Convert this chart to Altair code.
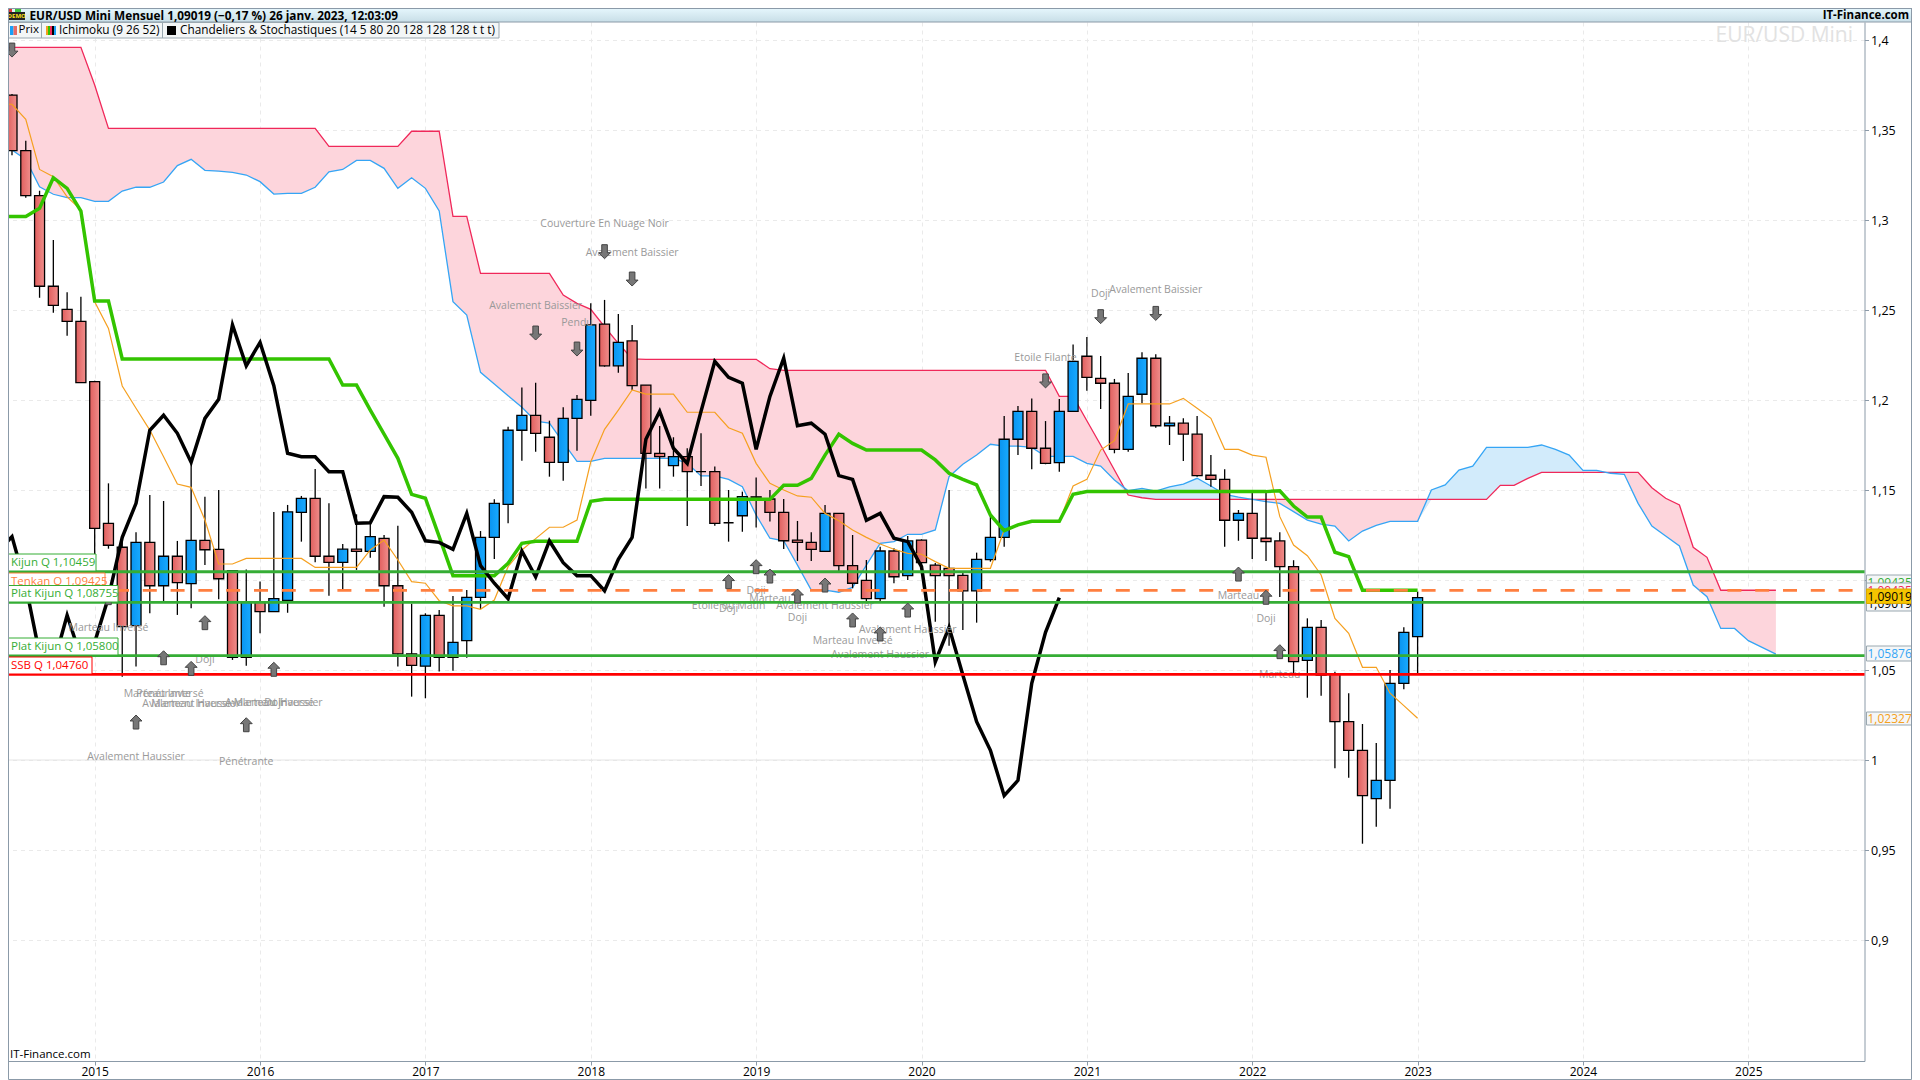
import altair as alt
import pandas as pd

# --- candles, month index -6 (Jul 2014) .. 96 (Jan 2023)
opens = [1.3694,1.3385,1.3135,1.2632,1.2504,1.2437,
 1.2102,1.1315,1.1182,1.0746,1.1209,1.0968,1.1132,1.0980,1.1220,1.1170,1.1052,1.0570,
 1.0879,1.0824,1.0887,1.1376,1.1454,1.1132,1.1098,1.1171,1.1159,1.1231,1.0968,1.0590,
 1.0521,1.0804,1.0570,1.0663,1.0904,1.1237,1.1420,1.1832,1.1915,1.1793,1.1654,1.1898,
 1.1998,1.2422,1.2190,1.2328,1.2083,1.1704,1.1635,1.1685,1.1602,1.1602,1.1318,1.1357,
 1.1462,1.1450,1.1376,1.1222,1.1209,1.1159,1.1370,1.1080,1.0998,1.0896,1.1161,1.1024,
 1.1222,1.1083,1.1065,1.1026,1.0940,1.1113,1.1237,1.1782,1.1937,1.1732,1.1652,1.1937,
 1.2243,1.2120,1.2093,1.1726,1.2032,1.2232,1.1857,1.1871,1.1810,1.1582,1.1559,1.1332,
 1.1370,1.1232,1.1217,1.1074,1.0554,1.0737,1.0478,1.0213,1.0054,0.9785,0.9887,1.0426,1.0685]
closes = [1.3385,1.3135,1.2632,1.2526,1.2437,1.2096,
 1.1287,1.1193,1.0741,1.1209,1.0968,1.1132,1.0985,1.1220,1.1168,1.1007,1.0570,1.0879,
 1.0824,1.0896,1.1379,1.1454,1.1132,1.1098,1.1171,1.1159,1.1241,1.0968,1.0590,1.0526,
 1.0804,1.0570,1.0654,1.0904,1.1237,1.1426,1.1832,1.1915,1.1815,1.1654,1.1898,1.2004,
 1.2417,1.2190,1.2320,1.2080,1.1704,1.1685,1.1685,1.1602,1.1602,1.1315,1.1318,1.1463,
 1.1460,1.1376,1.1218,1.1209,1.1170,1.1370,1.1080,1.0982,1.0896,1.1161,1.1018,1.1217,
 1.1096,1.1024,1.1024,1.0940,1.1115,1.1237,1.1782,1.1937,1.1732,1.1648,1.1937,1.2215,
 1.2126,1.2093,1.1726,1.2020,1.2232,1.1857,1.1871,1.1810,1.1580,1.1559,1.1332,1.1370,
 1.1232,1.1213,1.1074,1.0546,1.0737,1.0472,1.0213,1.0054,0.9802,0.9887,1.0426,1.0709,1.0902]
highs = [1.3700,1.3440,1.3163,1.2889,1.2598,1.2574,
 1.2107,1.1537,1.1240,1.1265,1.1472,1.1439,1.1217,1.1657,1.1463,1.1500,1.1052,1.1059,
 1.0991,1.1378,1.1417,1.1467,1.1617,1.1426,1.1200,1.1365,1.1315,1.1250,1.1302,1.0868,
 1.0815,1.0833,1.0911,1.0944,1.1272,1.1448,1.1852,1.2070,1.2096,1.1885,1.1960,1.2028,
 1.2537,1.2556,1.2478,1.2417,1.2083,1.1856,1.1793,1.1732,1.1815,1.1630,1.1500,1.1491,
 1.1570,1.1500,1.1450,1.1328,1.1265,1.1417,1.1370,1.1250,1.1111,1.1185,1.1176,1.1244,
 1.1226,1.1094,1.1500,1.1040,1.1152,1.1370,1.1911,1.1967,1.2009,1.1883,1.2006,1.2309,
 1.2350,1.2244,1.2117,1.2150,1.2265,1.2254,1.1911,1.1898,1.1911,1.1694,1.1615,1.1389,
 1.1483,1.1483,1.1265,1.1110,1.0787,1.0778,1.0490,1.0371,1.0200,1.0094,1.0500,1.0737,1.0935]
lows = [1.3360,1.3124,1.2568,1.2485,1.2357,1.2096,
 1.1129,1.1174,1.0463,1.0519,1.0815,1.0883,1.0806,1.0843,1.1083,1.0893,1.0556,1.0524,
 1.0704,1.0824,1.0818,1.1213,1.1098,1.0913,1.0948,1.1056,1.1124,1.0852,1.0519,1.0352,
 1.0343,1.0491,1.0496,1.0568,1.0839,1.1117,1.1315,1.1663,1.1713,1.1574,1.1552,1.1718,
 1.1913,1.2185,1.2152,1.2056,1.1509,1.1509,1.1574,1.1300,1.1522,1.1302,1.1213,1.1268,
 1.1291,1.1325,1.1172,1.1106,1.1106,1.1157,1.1046,1.0954,1.0879,1.0879,1.0982,1.1000,
 1.1067,1.0768,1.0635,1.0722,1.0763,1.1102,1.1185,1.1694,1.1615,1.1643,1.1602,1.1937,
 1.2052,1.1950,1.1704,1.1713,1.1982,1.1846,1.1750,1.1661,1.1574,1.1518,1.1185,1.1218,
 1.1117,1.1106,1.0905,1.0483,1.0346,1.0357,0.9954,0.9902,0.9535,0.9629,0.9729,1.0393,1.0483]

# --- Ichimoku, month index -7 .. 122 (cloud), -7 .. 96 (tenkan, kijun)
span_b = [1.3959,1.3959,1.3959,1.3959,1.3959,1.3959,1.3959,1.3750,
 1.3509,1.3509,1.3509,1.3509,1.3509,1.3509,1.3509,1.3509,1.3509,1.3509,1.3509,1.3509,1.3509,1.3509,1.3509,1.3509,
 1.3409,1.3409,1.3409,1.3409,1.3409,1.3409,1.3493,1.3493,1.3493,1.3020,1.3020,
 1.2704,1.2704,1.2704,1.2704,1.2704,1.2704,1.2583,1.2537,1.2504,1.2407,1.2315,1.2228,
 1.2226,1.2226,1.2226,1.2226,1.2226,1.2226,1.2226,1.2226,1.2226,1.2174,
 1.2165,1.2165,1.2165,1.2165,1.2165,1.2165,1.2165,1.2165,1.2165,1.2165,1.2165,1.2165,1.2165,1.2165,1.2165,1.2165,1.2165,1.2165,1.2165,1.2165,
 1.2020,1.2020,1.1885,1.1750,1.1611,1.1472,1.1457,
 1.1448,1.1448,1.1448,1.1448,1.1448,1.1448,1.1448,1.1448,1.1448,1.1448,1.1448,1.1448,1.1448,1.1448,1.1448,1.1448,1.1448,1.1448,1.1448,1.1448,1.1448,1.1448,1.1448,1.1448,1.1448,
 1.1526,1.1526,1.1565,1.1598,1.1598,1.1598,1.1598,1.1598,1.1598,1.1598,1.1598,1.1513,1.1454,1.1417,1.1182,1.1126,
 1.0943,1.0943,1.0943,1.0943,1.0943]
span_a = [1.3483,1.3389,1.3337,1.3185,1.3143,1.3124,1.3124,1.3104,1.3104,1.3161,1.3182,1.3182,1.3211,1.3302,1.3337,
 1.3276,1.3271,1.3265,1.3250,1.3213,1.3144,1.3148,1.3148,1.3182,1.3268,1.3281,1.3331,1.3331,1.3287,1.3176,1.3235,
 1.3176,1.3050,1.2546,1.2472,1.2154,1.2089,1.2024,1.1960,1.1883,1.1871,1.1765,1.1659,1.1659,1.1676,1.1676,1.1676,
 1.1676,1.1676,1.1676,1.1648,1.1578,1.1578,1.1559,1.1518,1.1361,1.1232,1.1218,1.1083,1.0944,1.0944,1.0932,1.0959,
 1.1083,1.1204,1.1213,1.1254,1.1254,1.1278,1.1574,1.1643,1.1694,1.1754,1.1744,1.1744,1.1737,1.1687,1.1687,1.1687,
 1.1648,1.1633,1.1556,1.1496,1.1509,1.1494,1.1518,1.1533,1.1565,1.1522,1.1476,1.1460,1.1448,1.1435,1.1426,1.1380,
 1.1333,1.1311,1.1300,1.1217,1.1272,1.1304,1.1326,1.1326,1.1326,1.1500,1.1528,1.1611,1.1633,1.1737,1.1737,1.1737,
 1.1737,1.1750,1.1726,1.1694,1.1609,1.1609,1.1593,1.1587,1.1426,1.1300,1.1244,1.1189,1.0972,1.0907,1.0731,1.0731,
 1.0663,1.0626,1.0588]
tenkan = [1.3643,1.3643,1.3559,1.3281,1.3241,1.3129,1.3056,1.2546,1.2398,1.2078,1.1954,1.1833,1.1685,1.1533,1.1515,
 1.1333,1.1089,1.1089,1.1120,1.1120,1.1120,1.1120,1.1120,1.1070,1.1070,1.1070,1.1070,1.1167,1.1222,1.1111,1.0991,
 1.0982,1.0885,1.0856,1.0856,1.0837,1.0889,1.1074,1.1167,1.1230,1.1293,1.1293,1.1333,1.1657,1.1837,1.1944,1.2056,
 1.2033,1.2033,1.2033,1.1932,1.1932,1.1932,1.1846,1.1815,1.1648,1.1537,1.1500,1.1467,1.1460,1.1370,1.1329,1.1278,
 1.1237,1.1200,1.1171,1.1148,1.1143,1.1102,1.1065,1.1065,1.1065,1.1065,1.1278,1.1306,1.1326,1.1326,1.1326,1.1522,
 1.1559,1.1722,1.1774,1.1978,1.1978,1.1978,1.1978,1.2009,1.1954,1.1898,1.1726,1.1726,1.1694,1.1682,1.1352,1.1194,
 1.1135,1.1028,1.0787,1.0704,1.0515,1.0515,1.0371,1.0302,1.0232]
kijun = [1.3020,1.3020,1.3020,1.3065,1.3235,1.3176,1.3050,1.2550,1.2550,
 1.2228,1.2228,1.2228,1.2228,1.2228,1.2228,1.2228,1.2228,1.2228,1.2228,1.2228,1.2228,1.2228,1.2228,1.2228,1.2228,
 1.2083,1.2083,1.1944,1.1811,1.1676,1.1476,1.1454,1.1241,1.1024,1.1024,1.1024,1.1024,1.1093,1.1204,
 1.1215,1.1215,1.1215,1.1215,1.1437,1.1448,
 1.1448,1.1448,1.1448,1.1448,1.1448,1.1448,1.1448,1.1448,1.1448,1.1448,1.1448,1.1448,
 1.1526,1.1526,1.1565,1.1694,1.1810,1.1759,1.1722,1.1722,1.1722,1.1722,1.1722,1.1667,1.1593,1.1559,1.1528,1.1361,
 1.1274,1.1306,1.1326,1.1326,1.1326,1.1476,
 1.1491,1.1491,1.1491,1.1491,1.1491,1.1491,1.1491,1.1491,1.1491,1.1491,1.1491,1.1491,1.1491,1.1491,
 1.1496,1.1411,1.1350,1.1350,1.1154,1.1130,1.0943,1.0943,1.0943,1.0943,1.0943]

# --- horizontal levels
level_names = ["Kijun Q", "Tenkan Q", "Plat Kijun Q", "Plat Kijun Q", "SSB Q"]
level_values = [1.10459, 1.09425, 1.08755, 1.05800, 1.04760]

# --- pattern arrows: month, price at arrow, direction
arrow_m = [-6,32,35,37,39,69,73,77, 1,5,8,7,13,3,11,46,48,49,51,53,55,57,59,83,85,86]
arrow_v = [1.3944,1.2372,1.2283,1.2824,1.2672,1.2106,1.2463,1.2481,
           1.0902,1.0568,1.0763,1.0509,1.0504,1.0211,1.0196,1.0991,1.1074,1.1022,1.0911,1.0972,1.0778,1.0700,1.0833,1.1033,1.0904,1.0602]
arrow_up = [False]*8 + [True]*18

# --- pattern labels: month, price, text
label_m = [32,35,37,39,69,73,77, 1,5,5,8,7,7,13,13,13,3,11,46,46,48,49,51,53,55,57,59,83,85,86]
label_v = [1.2528,1.2435,1.2983,1.2822,1.2237,1.2594,1.2615,
           1.0737,1.0370,1.0370,1.0561,1.0315,1.0315,1.0320,1.0320,1.0320,1.0022,0.9994,
           1.0859,1.0843,1.0944,1.0902,1.0793,1.0859,1.0667,1.0589,1.0728,1.0915,1.0787,1.0478]
label_t = ["Avalement Baissier","Pendu","Couverture En Nuage Noir","Avalement Baissier","Etoile Filante","Doji","Avalement Baissier",
           "Marteau Inversé","Marteau Inversé","Pénétrante","Doji","Avalement Haussier","Marteau Inversé","Avalement Haussier","Marteau Inversé","Doji",
           "Avalement Haussier","Pénétrante","Etoile du Matin","Doji","Doji","Marteau","Doji","Avalement Haussier","Marteau Inversé","Avalement Haussier","Avalement Haussier","Marteau","Doji","Marteau"]

y_ticks = [0.9,0.95,1.0,1.05,1.1,1.15,1.2,1.25,1.3,1.35,1.4]
x_ticks = [0,12,24,36,48,60,72,84,96,108,120]

W, H = 1856.5, 1039
R = 1911.5   # right edge of the drawing on the page
FONT = "Open Sans"
AXC = "#8b9aa8"
xs = alt.Scale(domain=[-6.29, 128.43], nice=False, zero=False, padding=0)
ys = alt.Scale(domain=[0.83278, 1.41], nice=False, zero=False)
AX = alt.Axis(
    values=x_ticks, grid=True, gridDash=[4, 4], gridColor="#eaeaea", labelExpr="'' + (2015 + datum.value / 12)",
    labelFont=FONT, labelFontSize=12, labelColor="#000", tickColor=AXC, domainColor=AXC, tickSize=4,
    labelPadding=1, labelOverlap=False, labelFlush=False, title=None)
AY = alt.Axis(
    orient="right", values=y_ticks, grid=True, gridDash=[4, 4], gridColor="#eaeaea",
    labelExpr="replace('' + round(datum.value * 100) / 100, '.', ',')",
    labelFont=FONT, labelFontSize=12.5, labelColor="#000", tickColor=AXC, domainColor=AXC, tickSize=4,
    labelPadding=2, labelOverlap=False, labelFlush=False, title=None)
X = lambda f="m": alt.X(f"{f}:Q", scale=xs, axis=AX)
Y = lambda f="v": alt.Y(f"{f}:Q", scale=ys, axis=AY)
one = pd.DataFrame({"a": [0]})

candles = pd.DataFrame({"m": list(range(-6, 97)), "open": opens, "close": closes, "high": highs, "low": lows})
up = candles[candles.close > candles.open]
down = candles[candles.close <= candles.open]
cloud = pd.DataFrame({"m": list(range(-7, 123)), "a": span_a, "b": span_b})
cloud["lo"] = cloud[["a", "b"]].min(axis=1)
ten = pd.DataFrame({"m": list(range(-7, 97)), "v": tenkan})
kij = pd.DataFrame({"m": list(range(-7, 97)), "v": kijun})
# the lagging span is the close drawn 26 months back
chik = pd.DataFrame({"m": list(range(-7, 71)), "v": [closes[m + 26 + 6] for m in range(-7, 71)]})
arrows = pd.DataFrame({"m": arrow_m, "v": arrow_v, "up": arrow_up})
labels = pd.DataFrame({"m": label_m, "v": label_v, "t": label_t})

UP = "M0,-1 L0.85,-0.15 L0.4,-0.15 L0.4,1 L-0.4,1 L-0.4,-0.15 L-0.85,-0.15 Z"
DN = "M0,1 L0.85,0.15 L0.4,0.15 L0.4,-1 L-0.4,-1 L-0.4,0.15 L-0.85,0.15 Z"
RED = alt.Gradient(gradient="linear", x1=0, y1=0, x2=1, y2=0,
                   stops=[alt.GradientStop(offset=0, color="#e05f5e"), alt.GradientStop(offset=1, color="#f08e8c")])
BLUE = alt.Gradient(gradient="linear", x1=0, y1=0, x2=1, y2=0,
                    stops=[alt.GradientStop(offset=0, color="#0a94f0"), alt.GradientStop(offset=1, color="#18aaff")])
HEAD = alt.Gradient(gradient="linear", x1=0, y1=0, x2=0, y2=1,
                    stops=[alt.GradientStop(offset=0, color="#e6f7fd"), alt.GradientStop(offset=1, color="#c8dee7")])


def rect(x1, x2, y1, y2, **kw):
    """a piece of the window chrome, in page pixels minus the chart's origin"""
    return alt.Chart(one).mark_rect(**kw).encode(
        x=alt.value(x1 - 8), x2=alt.value(x2 - 8), y=alt.value(y1 - 22), y2=alt.value(y2 - 22))


def txt(s, x, y, size=12, color="#000", weight="normal", align="left", font=FONT):
    return alt.Chart(one).mark_text(text=s, fontSize=size, color=color, fontWeight=weight, align=align,
                                    baseline="middle", font=font).encode(
        x=alt.value(x - 8), y=alt.value(y - 22))


layers = []
layers.append(alt.Chart(pd.DataFrame({"v": [1.0]})).mark_rule(color="#e4e4e4", strokeWidth=1).encode(
    y=Y(), x=alt.value(0), x2=alt.value(W)))
layers.append(txt("EUR/USD Mini", 1853, 36, size=21, color="#e2e2e2", align="right"))

# cloud
layers.append(alt.Chart(cloud).mark_area(color="#fdd5dc", clip=True).encode(x=X(), y=Y("b"), y2="lo:Q"))
layers.append(alt.Chart(cloud).mark_area(color="#d2ebfb", clip=True).encode(x=X(), y=Y("a"), y2="lo:Q"))
layers.append(alt.Chart(cloud).mark_line(color="#f0285a", strokeWidth=1.3, clip=True).encode(x=X(), y=Y("b")))
layers.append(alt.Chart(cloud).mark_line(color="#35a5f5", strokeWidth=1.3, clip=True).encode(x=X(), y=Y("a")))

# candles
layers.append(alt.Chart(candles).mark_rule(color="#000", strokeWidth=1.3, clip=True).encode(x=X(), y=Y("low"), y2="high:Q"))
layers.append(alt.Chart(down).mark_bar(size=10, color=RED, stroke="#000", strokeWidth=1.3, clip=True).encode(
    x=X(), y=Y("open"), y2="close:Q"))
layers.append(alt.Chart(up).mark_bar(size=10, color=BLUE, stroke="#000", strokeWidth=1.3, clip=True).encode(
    x=X(), y=Y("open"), y2="close:Q"))

# ichimoku lines
layers.append(alt.Chart(ten).mark_line(color="#f5a020", strokeWidth=1.2, clip=True).encode(x=X(), y=Y()))
layers.append(alt.Chart(kij).mark_line(color="#33c400", strokeWidth=3.5, clip=True).encode(x=X(), y=Y()))
layers.append(alt.Chart(chik).mark_line(color="#000", strokeWidth=3.5, clip=True).encode(x=X(), y=Y()))

# pattern labels
layers.append(alt.Chart(labels).mark_text(color="#999", fontSize=10.5, font=FONT, baseline="middle", dy=1, clip=True).encode(
    x=X(), y=Y(), text="t:N"))

# horizontal levels
for v, c, kw in [(level_values[0], "#35ad35", {}), (level_values[2], "#35ad35", {}), (level_values[3], "#35ad35", {}),
                 (level_values[4], "#ff0000", {}),
                 (level_values[1], "#ff7f3f", {"strokeDash": [14, 13.8], "strokeDashOffset": 4.2})]:
    layers.append(alt.Chart(pd.DataFrame({"v": [v]})).mark_rule(color=c, strokeWidth=2.8, **kw).encode(
        y=Y(), x=alt.value(0), x2=alt.value(W)))

# arrows
layers.append(alt.Chart(arrows[arrows.up]).mark_point(shape=UP, size=196, filled=True, fill="#777", stroke="#444",
                                                      strokeWidth=1, opacity=1, clip=True).encode(x=X(), y=Y()))
layers.append(alt.Chart(arrows[~arrows.up]).mark_point(shape=DN, size=196, filled=True, fill="#777", stroke="#444",
                                                       strokeWidth=1, opacity=1, clip=True).encode(x=X(), y=Y()))

# left level tags
tags = [("Tenkan Q 1,09425", 105, 573, 590, "#ff7f3f", "#ff7f3f"),
        ("Kijun Q 1,10459", 96, 554, 571, "#35ad35", "#35ad35"),
        ("Plat Kijun Q 1,08755", 118, 585.5, 602, "#35ad35", "#35ad35"),
        ("Plat Kijun Q 1,05800", 118, 638, 655, "#35ad35", "#35ad35"),
        ("SSB Q 1,04760", 92, 657, 674, "#ff0000", "#ff0000")]
for s, x2, y1, y2, sc, tc in tags:
    layers.append(rect(8.5, x2, y1, y2, fill="#fff", stroke=sc, strokeWidth=1))
    layers.append(txt(s, 11, (y1 + y2) / 2, size=11.5, color=tc))

# right price tags
for s, y1, y2, sc, tc, fc in [("1,09435", 575, 590, "#9aa8b0", "#35ad35", "#f4f6f7"),
                              ("1,09435", 583, 598, "#9aa8b0", "#f0285a", "#f4f6f7"),
                              ("1,09019", 596, 611, "#9aa8b0", "#000", "#f4f6f7"),
                              ("1,05876", 646, 661, "#9aa8b0", "#35a5f5", "#f4f6f7"),
                              ("1,02327", 712, 725, "#9aa8b0", "#f5a020", "#f4f6f7")]:
    layers.append(rect(1866.5, R, y1, y2, fill=fc, stroke=sc, strokeWidth=1))
    layers.append(txt(s, 1867.5, (y1 + y2) / 2 + 0.5, size=12, color=tc))
layers.append(rect(1866.5, R, 589, 603.5, fill="#f5c400", stroke="#d9a900", strokeWidth=1))
layers.append(txt("1,09019", 1867.5, 596.5, size=12, color="#000"))

# header and legend row
layers.append(rect(8, R, 8, 22, fill=HEAD, stroke="#8b9aa8", strokeWidth=1))
layers.append(rect(8, 499, 22.5, 38, fill="#f3f6f7", stroke="#9aa8b0", strokeWidth=1))
layers.append(rect(41, 42, 22.5, 38, fill="#9aa8b0"))
layers.append(rect(162, 163, 22.5, 38, fill="#9aa8b0"))
layers.append(rect(10, 13.5, 26, 35, fill="#18a0f8"))
layers.append(rect(13.5, 17, 26, 35, fill="#e56b68"))
for i, c in enumerate(["#f5a020", "#33c400", "#f0285a", "#000", "#18a0f8"]):
    layers.append(rect(46 + 2 * i, 48 + 2 * i, 26, 35, fill=c))
layers.append(rect(167, 176, 26, 35, fill="#000"))
layers.append(txt("Prix", 18.5, 30, size=11.5))
layers.append(txt("Ichimoku (9 26 52)", 59, 30, size=11.8))
layers.append(txt("Chandeliers & Stochastiques (14 5 80 20 128 128 128 t t t)", 180, 30, size=11.8))
layers.append(rect(9, 12, 9, 12, fill="#d9363a"))
layers.append(rect(15, 21, 8, 12, fill="#3cc43c"))
layers.append(rect(8.5, 25, 12, 20, fill="#222"))
layers.append(txt("DEMO", 16.7, 16.3, size=6, color="#ffe21a", weight="bold", align="center"))
layers.append(txt("EUR/USD Mini Mensuel 1,09019 (−0,17 %) 26 janv. 2023, 12:03:09", 29.5, 15.8, size=11.8, weight="bold"))
layers.append(txt("IT-Finance.com", 1909, 15.8, size=11.5, weight="bold", align="right"))
layers.append(txt("IT-Finance.com", 10, 1055, size=11.5))

# outer frame
layers.append(rect(8.5, R, 8.5, 1079.5, fill="transparent", stroke="#8b9aa8", strokeWidth=1))

chart = alt.layer(*layers).properties(
    width=W, height=H,
    padding={"left": 0, "top": 14, "right": 47.5, "bottom": 19},
    autosize=alt.AutoSizeParams(type="none", contains="content"),
    background="#ffffff",
).configure_view(stroke=None)

chart.save("out.html", embed_options={"renderer": "svg", "actions": False})
